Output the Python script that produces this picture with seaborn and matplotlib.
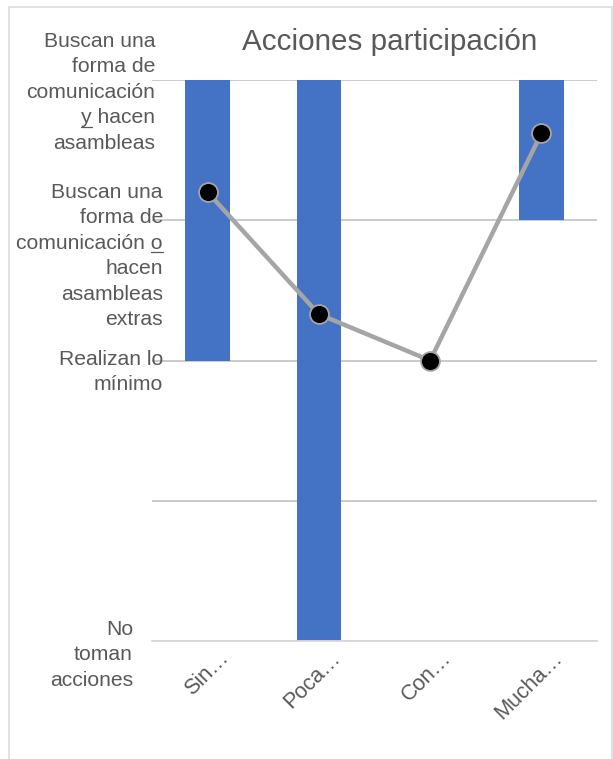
import numpy as np
import pandas as pd
import matplotlib
matplotlib.use("Agg")
import matplotlib.pyplot as plt
from matplotlib.lines import Line2D
from matplotlib.patches import Rectangle
from matplotlib.transforms import ScaledTranslation, IdentityTransform
import seaborn as sns

# ---- data -------------------------------------------------------------
categories = ["Sin…", "Poca…", "Con…", "Mucha…"]
range_low = [2, 0, 2, 3]          # lowest level of action reported per group
range_high = [4, 4, 2, 4]         # highest level of action reported per group
average_level = [3.2, 2.33, 2.0, 3.62]

level_labels = {
    4: ["Buscan una", "forma de", "comunicación", "y hacen", "asambleas"],
    3: ["Buscan una", "forma de", "comunicación o", "hacen", "asambleas", "extras"],
    2: ["Realizan lo", "mínimo"],
    0: ["No", "toman", "acciones"],
}
title = "Acciones participación"

# ---- style ------------------------------------------------------------
sns.set_style("white")
plt.rcParams["font.family"] = ["Liberation Sans", "DejaVu Sans"]

W, H = 613, 759
DPI = 100
TEXT = "#595959"
BAR = "#4472C4"
LINE = "#A5A5A5"
LABEL_FS = 15.2
CAT_FS = 15.6

fig = plt.figure(figsize=(W / DPI, H / DPI), dpi=DPI)
fig.patch.set_facecolor("white")
ax = fig.add_axes([152 / W, 1 - 641 / H, 445 / W, 561 / H])

df = pd.DataFrame({
    "categoria": categories,
    "base": range_low,
    "alto": np.subtract(range_high, range_low),
    "promedio": average_level,
})

# floating range bars
sns.barplot(data=df, x="categoria", y="alto", bottom=df["base"].to_numpy(),
            color=BAR, saturation=1, width=0.4, errorbar=None, ax=ax,
            linewidth=0)

# average line with markers
sns.pointplot(data=df, x="categoria", y="promedio", color=LINE, markers="o",
              linestyles="-", errorbar=None, linewidth=3.2, markersize=13.6,
              markeredgewidth=1.3, ax=ax)
for ln in ax.lines:
    ln.set_markerfacecolor("black")
    ln.set_markeredgecolor(LINE)
    ln.set_zorder(5)
    ln.set_solid_capstyle("round")

ax.set_xlim(-0.5, len(categories) - 0.5)
ax.set_ylim(0, 4)
ax.set_yticks(range(5))
ax.set_xlabel("")
ax.set_ylabel("")
ax.tick_params(length=0, labelbottom=False, labelleft=False)
ax.set_axisbelow(True)
ax.grid(axis="y", color="#BCBCBC", linewidth=1.1)
ax.grid(axis="x", visible=False)
for side in ("left", "right", "top"):
    ax.spines[side].set_visible(False)
ax.spines["bottom"].set_color("#D9D9D9")
ax.spines["bottom"].set_linewidth(1.3)

# category labels, rotated
for i, cat in enumerate(categories):
    ax.text(i, 0, cat, rotation=45, rotation_mode="anchor", ha="right",
            va="baseline", fontsize=CAT_FS, color=TEXT,
            transform=ax.transData + ScaledTranslation(22 / DPI, -18 / DPI, fig.dpi_scale_trans))

# level labels on the left: (right edge px, first baseline px)
label_layout = {4: (155, 47), 3: (163, 198), 2: (163, 365), 0: (133, 635)}
LINE_STEP = 25.4
line_texts = {}
for level, lines in level_labels.items():
    xr, yb = label_layout[level]
    for j, line in enumerate(lines):
        t = fig.text(xr / W, 1 - (yb + j * LINE_STEP) / H, line, ha="right",
                     va="baseline", fontsize=LABEL_FS, color=TEXT)
        line_texts[(level, j)] = (t, yb + j * LINE_STEP)

# title
fig.text(389.7 / W, 1 - 49.5 / H, title, ha="center", va="baseline",
         fontsize=21.3, color=TEXT)

# underline the connective words ("y" / "o")
renderer = fig.canvas.get_renderer()
for (level, j, sub, side) in [(4, 3, "y", "start"), (3, 2, "o", "end")]:
    t, base_px = line_texts[(level, j)]
    bb = t.get_window_extent(renderer)
    w_sub, _, _ = renderer.get_text_width_height_descent(sub, t.get_fontproperties(), ismath=False)
    if side == "start":
        x0, x1 = bb.x0, bb.x0 + w_sub
    else:
        x0, x1 = bb.x1 - w_sub, bb.x1
    yy = H - base_px - 3.3
    fig.add_artist(Line2D([x0, x1], [yy, yy], transform=IdentityTransform(),
                          color=TEXT, linewidth=0.9))

# chart area border
fig.add_artist(Rectangle((8.5 / W, -0.05), (611.5 - 8.5) / W, 1.05 - 6.5 / H,
                         transform=fig.transFigure, fill=False,
                         edgecolor="#D9D9D9", linewidth=1.1))

fig.savefig("out.png", dpi=DPI)
